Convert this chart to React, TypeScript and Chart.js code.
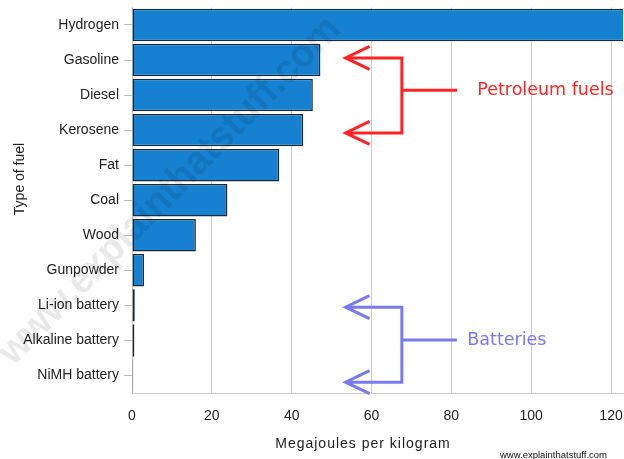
import React, { useEffect, useRef } from "react";
import { Chart, registerables } from "chart.js";

Chart.register(...registerables);

// ---- data ----
const fuels = [
  "Hydrogen",
  "Gasoline",
  "Diesel",
  "Kerosene",
  "Fat",
  "Coal",
  "Wood",
  "Gunpowder",
  "Li-ion battery",
  "Alkaline battery",
  "NiMH battery",
];
const energyMJperKg = [142, 47.2, 45.3, 42.9, 36.9, 23.9, 16.0, 3.0, 0.7, 0.6, 0.3];
const xTickValues = [0, 20, 40, 60, 80, 100, 120];
const xAxisMin = 0;
const xAxisMax = 123;
const xAxisTitle = "Megajoules per kilogram";
const yAxisTitle = "Type of fuel";
const groupLabels = ["Petroleum fuels", "Batteries"];
const groupColors = ["#ff2424", "#7a7aef"];
// bracket geometry in axis units (x: MJ/kg, y: category index)
const groupTopIndex = [0.94, 8.05];
const groupBottomIndex = [3.08, 10.19];
const groupMidIndex = [1.86, 8.99];
const groupTextX = [86.5, 84.0];
const bracketTipX = 53.5;
const bracketSpineX = 67.6;
const bracketStemX = 81.4;
const creditText = "www.explainthatstuff.com";

const BAR_COLOR = "#1581d0";
const BAR_BORDER = "#1b2a36";
const GRID_COLOR = "#cccccc";
const TEXT_COLOR = "#222222";

const overlayPlugin = {
  id: "overlay",
  afterDatasetsDraw(chart: any) {
    const ctx: CanvasRenderingContext2D = chart.ctx;
    // watermark
    ctx.save();
    ctx.translate(170, 191);
    ctx.rotate((-45.6 * Math.PI) / 180);
    ctx.font = 'bold 40px "Liberation Sans"';
    const w = ctx.measureText(creditText).width;
    ctx.scale(470 / w, 1);
    ctx.fillStyle = "rgba(0,0,0,0.085)";
    ctx.textAlign = "center";
    ctx.textBaseline = "middle";
    ctx.fillText(creditText, 0, 0);
    ctx.restore();
  },
  afterDraw(chart: any) {
    const ctx: CanvasRenderingContext2D = chart.ctx;
    const xs = chart.scales.x;
    const ys = chart.scales.y;

    // brackets
    groupLabels.forEach((label, i) => {
      const color = groupColors[i];
      const tip = xs.getPixelForValue(bracketTipX);
      const spine = xs.getPixelForValue(bracketSpineX);
      const stem = xs.getPixelForValue(bracketStemX);
      const yTop = ys.getPixelForValue(groupTopIndex[i]);
      const yBot = ys.getPixelForValue(groupBottomIndex[i]);
      const yMid = ys.getPixelForValue(groupMidIndex[i]);
      ctx.save();
      ctx.strokeStyle = color;
      ctx.lineWidth = 3;
      ctx.lineJoin = "miter";
      ctx.lineCap = "butt";
      ctx.beginPath();
      ctx.moveTo(tip, yTop);
      ctx.lineTo(spine, yTop);
      ctx.lineTo(spine, yBot);
      ctx.lineTo(tip, yBot);
      ctx.moveTo(spine, yMid);
      ctx.lineTo(stem, yMid);
      for (const y of [yTop, yBot]) {
        ctx.moveTo(tip + 24, y - 11.5);
        ctx.lineTo(tip, y);
        ctx.lineTo(tip + 24, y + 11.5);
      }
      ctx.stroke();
      ctx.fillStyle = color;
      ctx.font = '17.5px "DejaVu Sans"';
      ctx.textAlign = "left";
      ctx.textBaseline = "middle";
      ctx.fillText(label, xs.getPixelForValue(groupTextX[i]), yMid);
      ctx.restore();
    });

    // axis titles
    ctx.save();
    ctx.fillStyle = TEXT_COLOR;
    ctx.font = '14px "Liberation Sans"';
    ctx.textAlign = "center";
    ctx.textBaseline = "middle";
    (ctx as any).letterSpacing = "1px";
    ctx.fillText(xAxisTitle, 363, 444);
    (ctx as any).letterSpacing = "0px";
    ctx.translate(20, 179);
    ctx.rotate(-Math.PI / 2);
    ctx.fillText(yAxisTitle, 0, 0);
    ctx.restore();

    // credit
    ctx.save();
    ctx.fillStyle = "#111111";
    ctx.font = '9.5px "Liberation Sans"';
    ctx.textAlign = "right";
    ctx.textBaseline = "alphabetic";
    ctx.fillText(creditText, 607, 458);
    ctx.restore();
  },
};

export default function App() {
  const canvasRef = useRef<HTMLCanvasElement | null>(null);

  useEffect(() => {
    const canvas = canvasRef.current;
    if (!canvas) return;
    const chart = new Chart(canvas, {
      type: "bar",
      data: {
        labels: fuels,
        datasets: [
          {
            data: energyMJperKg,
            backgroundColor: BAR_COLOR,
            borderColor: BAR_BORDER,
            borderWidth: 1.5,
            borderSkipped: false,
            barPercentage: 0.925,
            categoryPercentage: 1,
          },
        ],
      },
      options: {
        indexAxis: "y",
        animation: false,
        responsive: false,
        maintainAspectRatio: false,
        devicePixelRatio: 1,
        layout: { padding: { top: 7.45, right: 1, left: 0, bottom: 0 } },
        plugins: {
          legend: { display: false },
          tooltip: { enabled: false },
        },
        scales: {
          x: {
            type: "linear",
            min: xAxisMin,
            max: xAxisMax,
            afterBuildTicks: (axis: any) => {
              axis.ticks = xTickValues.map((v) => ({ value: v }));
            },
            afterFit: (s: any) => {
              s.height = 66;
              s.paddingLeft = 0;
              s.paddingRight = 0;
              s.paddingTop = 0;
              s.paddingBottom = 0;
            },
            grid: { color: GRID_COLOR, drawTicks: false, lineWidth: 1 },
            border: { color: GRID_COLOR },
            ticks: {
              color: TEXT_COLOR,
              font: { family: "Liberation Sans", size: 14 },
              padding: 15,
              maxRotation: 0,
            },
          },
          y: {
            type: "category",
            afterFit: (s: any) => {
              s.width = 132;
              s.paddingLeft = 0;
              s.paddingRight = 0;
              s.paddingTop = 0;
              s.paddingBottom = 0;
            },
            grid: { drawOnChartArea: false, color: "#bbbbbb", tickLength: 8, offset: false },
            border: { color: GRID_COLOR },
            ticks: {
              color: TEXT_COLOR,
              font: { family: "Liberation Sans", size: 14 },
              padding: 5,
              autoSkip: false,
            },
          },
        },
      },
      plugins: [overlayPlugin],
    } as any);
    return () => chart.destroy();
  }, []);

  return (
    <div style={{ position: "fixed", left: 0, top: 0, width: 624, height: 459, background: "#ffffff" }}>
      <canvas ref={canvasRef} width={624} height={459} style={{ width: 624, height: 459, display: "block" }} />
    </div>
  );
}
